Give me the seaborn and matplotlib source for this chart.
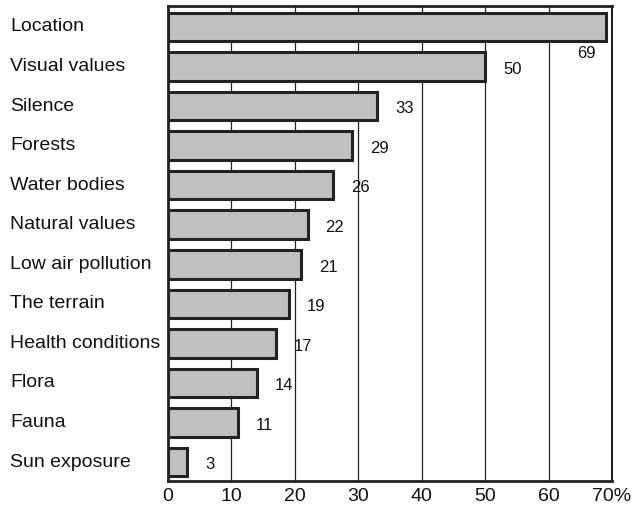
import matplotlib
matplotlib.use('Agg')
import matplotlib.pyplot as plt
import matplotlib.transforms as mtransforms
import seaborn as sns
import pandas as pd

# datos
categorias = ['Location', 'Visual values', 'Silence', 'Forests', 'Water bodies',
              'Natural values', 'Low air pollution', 'The terrain',
              'Health conditions', 'Flora', 'Fauna', 'Sun exposure']
valores = [69, 50, 33, 29, 26, 22, 21, 19, 17, 14, 11, 3]
ticks = [0, 10, 20, 30, 40, 50, 60, 70]
tick_labels = ['0', '10', '20', '30', '40', '50', '60', '70%']

sns.set_theme(style='white')
plt.rcParams['font.family'] = ['Liberation Sans', 'DejaVu Sans']

df = pd.DataFrame({'cat': categorias, 'val': valores})

fig = plt.figure(figsize=(6.4, 5.07), dpi=100)
ax = fig.add_axes([168 / 640, 1 - 481 / 507, (612 - 168) / 640, (481 - 6) / 507])

sns.barplot(data=df, x='val', y='cat', color='#c0c0c0', saturation=1,
            edgecolor='#222222', linewidth=2.2, width=0.72, ax=ax, zorder=3)

ax.set_xlim(0, 70)
ax.set_ylim(len(categorias) - 0.52, -0.53)
ax.set_xticks(ticks)
ax.set_xticklabels(tick_labels, fontsize=14, color='#111111')
ax.tick_params(axis='x', length=0, pad=5)
ax.set_yticks([])
ax.set_xlabel('')
ax.set_ylabel('')

for x in ticks[1:-1]:
    ax.axvline(x, color='#222222', linewidth=0.9, zorder=1)

for s in ['top', 'left', 'bottom']:
    ax.spines[s].set_color('#222222')
    ax.spines[s].set_linewidth(2.0)
ax.spines['right'].set_color('#222222')
ax.spines['right'].set_linewidth(1.5)

# etiquetas de categorias alineadas a la izquierda de la figura
trans = mtransforms.blended_transform_factory(fig.transFigure, ax.transData)
for i, c in enumerate(categorias):
    ax.text(10 / 640, i, c, transform=trans, ha='left', va='center',
            fontsize=14, color='#111111')

# etiquetas de valores
for i, v in enumerate(valores):
    if i == 0:
        ax.annotate(str(v), (v, i), xytext=(-14, -19), textcoords='offset points',
                    ha='center', va='center', fontsize=12, color='#111111')
    else:
        ax.annotate(str(v), (v, i), xytext=(13, -2), textcoords='offset points',
                    ha='left', va='center', fontsize=12, color='#111111')

plt.savefig('out.png', dpi=100)
